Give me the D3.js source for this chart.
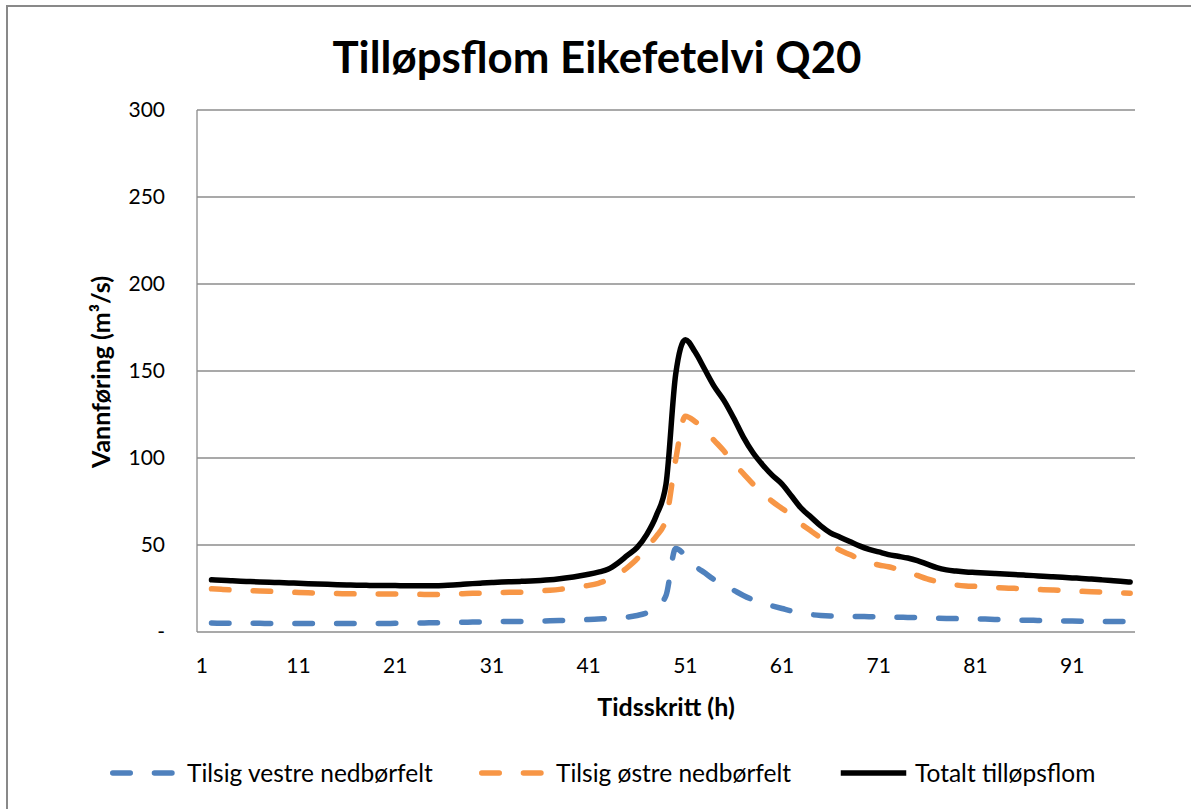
<!DOCTYPE html>
<html><head><meta charset="utf-8">
<script src="https://cdn.jsdelivr.net/npm/d3@7"></script>
<style>body{margin:0;background:#fff}svg{display:block}</style>
</head><body>
<svg id="c" width="1191" height="809"></svg>
<script>
const categories = d3.range(1, 98);
const xTickLabels = ["1","11","21","31","41","51","61","71","81","91"];
const yTickValues = [0,50,100,150,200,250,300];
const yTickLabels = ["-","50","100","150","200","250","300"];
const seriesNames = ["Tilsig vestre nedbørfelt","Tilsig østre nedbørfelt","Totalt tilløpsflom"];

const vestre = [null,
 5.2,5.1,5.1,5.0,5.0,5.0,4.9,4.9,4.9,4.9,
 4.9,4.9,4.9,4.9,4.9,4.9,4.9,4.9,4.9,5.0,
 5.0,5.1,5.2,5.3,5.4,5.5,5.6,5.7,5.8,5.9,
 6.0,6.1,6.1,6.2,6.3,6.4,6.6,6.8,7.0,7.2,
 7.5,7.8,8.2,8.6,9.5,11,14,21,48,44,
 38,34,30,27,24,21,18.5,16.5,15,13.5,
 12,10.8,10,9.5,9.2,9.1,9.0,8.9,8.8,8.7,
 8.6,8.5,8.4,8.3,8.1,7.9,7.8,7.7,7.6,7.5,
 7.4,7.2,7.1,6.9,6.8,6.7,6.6,6.5,6.4,6.3,
 6.2,6.1,6.1,6.0,6.0,6.0];

const ostre = [null,
 24.8,24.5,24.2,24.0,23.8,23.6,23.4,23.2,23.0,22.7,
 22.5,22.3,22.2,22.1,22.0,21.9,21.9,21.8,21.8,21.8,
 21.7,21.7,21.6,21.6,21.7,21.8,22.0,22.2,22.3,22.5,
 22.7,22.8,22.9,23.2,23.6,24.0,24.5,25.2,26.0,26.8,
 28.0,30.0,33.0,37,42,49,55,65,99,124,
 121,116,110,104,97,91,85,80,75,71,
 67,62,58,54,50,47,44.5,42,40,38.5,
 37.5,36,34.5,32.5,30.5,29,27.8,27,26.5,26.2,
 25.9,25.6,25.3,25.1,24.8,24.6,24.3,24.1,23.9,23.6,
 23.4,23.2,23.0,22.8,22.5,22.3];

const totalt = [null,
 30.0,29.8,29.5,29.2,29.0,28.8,28.6,28.4,28.2,28.0,
 27.8,27.6,27.4,27.2,27.0,26.9,26.8,26.7,26.7,26.7,
 26.6,26.6,26.6,26.6,26.7,27.0,27.4,27.8,28.1,28.4,
 28.7,28.9,29.1,29.3,29.6,30.0,30.6,31.3,32.2,33.2,
 34.4,36.0,39.5,44,48.5,56,67,85,148,168,
 161,151,141,133,123,112,103,96,90,85,
 78,71,66,61,57,54.5,52,49.5,47.5,46,
 44.5,43.5,42.5,41,39,37,35.7,35,34.5,34.2,
 33.9,33.6,33.3,33.0,32.7,32.4,32.0,31.7,31.4,31.1,
 30.8,30.4,30.0,29.6,29.2,28.7];

const colors = ["#4F81BD","#F79646","#000000"];
const FONT = "Lato, 'Open Sans', sans-serif";

const svg = d3.select("#c");
const W = 1191, H = 809;
const plot = {left:197, right:1135, top:110, bottom:632};

// chart border
svg.append("rect").attr("x",7).attr("y",6).attr("width",W+10).attr("height",H+10)
  .attr("fill","#fff").attr("stroke","#898989").attr("stroke-width",2);

const x = d3.scaleLinear().domain([0.5, categories.length + 0.5]).range([plot.left, plot.right]);
const y = d3.scaleLinear().domain([0,300]).range([plot.bottom, plot.top]);

// gridlines
svg.append("g").selectAll("line").data(yTickValues.filter(v=>v>0)).join("line")
  .attr("x1",plot.left).attr("x2",plot.right)
  .attr("y1",d=>y(d)).attr("y2",d=>y(d))
  .attr("stroke","#8c8c8c").attr("stroke-width",1.3);

// axes lines
svg.append("line").attr("x1",plot.left).attr("x2",plot.left).attr("y1",plot.top).attr("y2",plot.bottom)
  .attr("stroke","#8c8c8c").attr("stroke-width",1.3);
svg.append("line").attr("x1",plot.left).attr("x2",plot.right).attr("y1",plot.bottom).attr("y2",plot.bottom)
  .attr("stroke","#8c8c8c").attr("stroke-width",1.3);

// y tick labels
svg.append("g").selectAll("text").data(yTickValues).join("text")
  .attr("x",165).attr("y",d=>y(d)).attr("dy","0.35em")
  .attr("text-anchor","end").attr("font-family",FONT).attr("font-size",21).attr("fill","#000")
  .text((d,i)=>yTickLabels[i]);

// x tick labels
svg.append("g").selectAll("text").data(xTickLabels).join("text")
  .attr("x",d=>x(+d)).attr("y",673)
  .attr("text-anchor","middle").attr("font-family",FONT).attr("font-size",21).attr("fill","#000")
  .text(d=>d);

// axis titles
svg.append("text").attr("transform","translate(110,372) rotate(-90)")
  .attr("text-anchor","middle").attr("font-family",FONT).attr("font-weight","bold")
  .attr("font-size",25).text("Vannføring (m³/s)");
svg.append("text").attr("x",666).attr("y",716)
  .attr("text-anchor","middle").attr("font-family",FONT).attr("font-weight","bold")
  .attr("font-size",25).text("Tidsskritt (h)");

// title
svg.append("text").attr("x",597).attr("y",73)
  .attr("text-anchor","middle").attr("font-family",FONT).attr("font-weight","bold")
  .attr("font-size",43).attr("textLength",529).attr("lengthAdjust","spacingAndGlyphs")
  .text("Tilløpsflom Eikefetelvi Q20");

// lines
const series = [vestre, ostre, totalt];
const line = d3.line().defined(d=>d[1]!=null).x(d=>x(d[0])).y(d=>y(d[1])).curve(d3.curveMonotoneX);
const dash = "17.5,24.2";
series.forEach((s,i)=>{
  svg.append("path").datum(categories.map((c,j)=>[c,s[j]]))
    .attr("d",line).attr("fill","none").attr("stroke",colors[i])
    .attr("stroke-width",5.5).attr("stroke-linecap","round").attr("stroke-linejoin","round")
    .attr("stroke-dasharray", i<2 ? dash : null);
});

// legend
const legendItems = [
  {x1:110, x2:175, tx:187},
  {x1:479, x2:546, tx:556},
  {x1:838, x2:909, tx:915}
];
const ly = 773;
legendItems.forEach((it,i)=>{
  svg.append("line").attr("x1",it.x1+2.75).attr("x2",it.x2-2.75).attr("y1",ly).attr("y2",ly)
    .attr("stroke",colors[i]).attr("stroke-width",5.5).attr("stroke-linecap",i<2?"round":"butt")
    .attr("stroke-dasharray", i<2 ? "17.5,24.2" : null);
  svg.append("text").attr("x",it.tx).attr("y",ly).attr("dy","0.35em")
    .attr("font-family",FONT).attr("font-size",24.5).attr("fill","#000").text(seriesNames[i]);
});
</script>
</body></html>
